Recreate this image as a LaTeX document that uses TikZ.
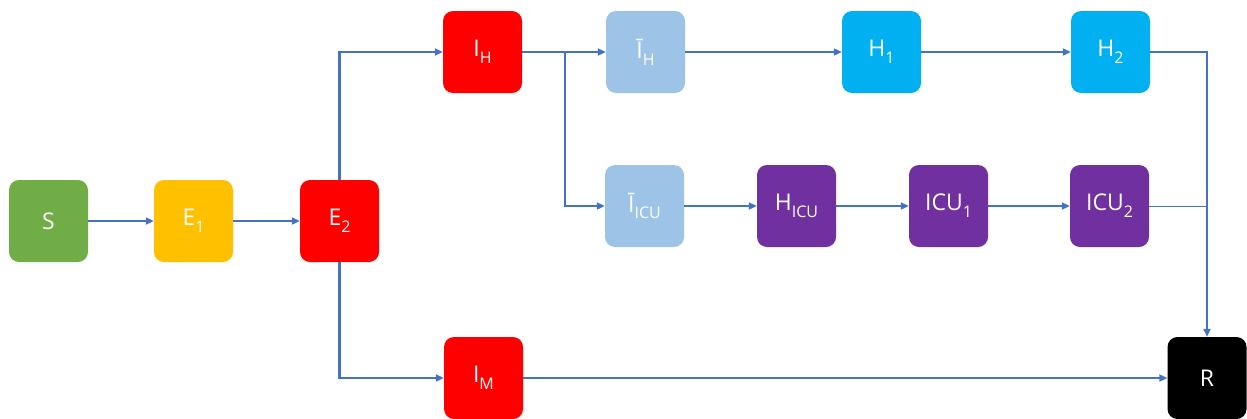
\documentclass[tikz,border=0pt]{standalone}
\usepackage{fontspec}
\setmainfont{Open Sans}
\usetikzlibrary{arrows.meta}
\definecolor{flow}{HTML}{4472C4}
\definecolor{sgreen}{HTML}{70AD47}
\definecolor{eyellow}{HTML}{FFC000}
\definecolor{ired}{HTML}{FF0000}
\definecolor{lblue}{HTML}{9DC3E6}
\definecolor{hblue}{HTML}{00B0F0}
\definecolor{icupurple}{HTML}{7030A0}
\newcommand\sub[1]{\raisebox{-0.55ex}{\fontsize{16}{16}\selectfont #1}}
\begin{document}
\begin{tikzpicture}[x=1pt,y=-1pt,
  box/.style={rounded corners=10pt, minimum width=79pt, minimum height=82pt,
    text=white, font=\fontsize{23}{26}\selectfont, inner sep=0pt},
  flowline/.style={draw=flow, line width=2.2pt},
  arr/.style={flowline, -{Triangle[length=8pt,width=7pt]}}]
\useasboundingbox (0,0) rectangle (1247,418);

% compartments
\node[box, fill=sgreen]    (S)     at (48.5,221)  {S};
\node[box, fill=eyellow]   (E1)    at (193.5,221) {E\sub{1}};
\node[box, fill=ired]      (E2)    at (339.5,221) {E\sub{2}};
\node[box, fill=ired]      (IH)    at (482.5,52)  {I\sub{H}};
\node[box, fill=lblue]     (IbH)   at (645.5,52)  {Ī\sub{H}};
\node[box, fill=hblue]     (H1)    at (881.5,52)  {H\sub{1}};
\node[box, fill=hblue]     (H2)    at (1110.5,52) {H\sub{2}};
\node[box, fill=lblue]     (IbICU) at (644.5,206) {Ī\sub{ICU}};
\node[box, fill=icupurple] (HICU)  at (796.5,206) {H\sub{ICU}};
\node[box, fill=icupurple] (ICU1)  at (948.5,206) {ICU\sub{1}};
\node[box, fill=icupurple] (ICU2)  at (1109.5,206) {ICU\sub{2}};
\node[box, fill=ired]      (IM)    at (483.5,378) {I\sub{M}};
\node[box, fill=black]     (R)     at (1207,378)  {R};

% branch point behind I_H
\coordinate (split) at (565,52);

% flows
\draw[arr] (S) -- (E1);
\draw[arr] (E1) -- (E2);
\draw[arr] (E2.north) |- (IH.west);
\draw[arr] (E2.south) |- (IM.west);
\draw[arr] (IH) -- (IbH);
\draw[arr] (split) |- (IbICU.west);
\draw[arr] (IbH) -- (H1);
\draw[arr] (H1) -- (H2);
\draw[arr] (H2.east) -| (R.north);
\draw[arr] (IbICU) -- (HICU);
\draw[arr] (HICU) -- (ICU1);
\draw[arr] (ICU1) -- (ICU2);
\draw[draw=flow, line width=1pt] (ICU2.east) -- (ICU2.east -| R.north);
\draw[arr] (IM) -- (R);
\end{tikzpicture}
\end{document}
